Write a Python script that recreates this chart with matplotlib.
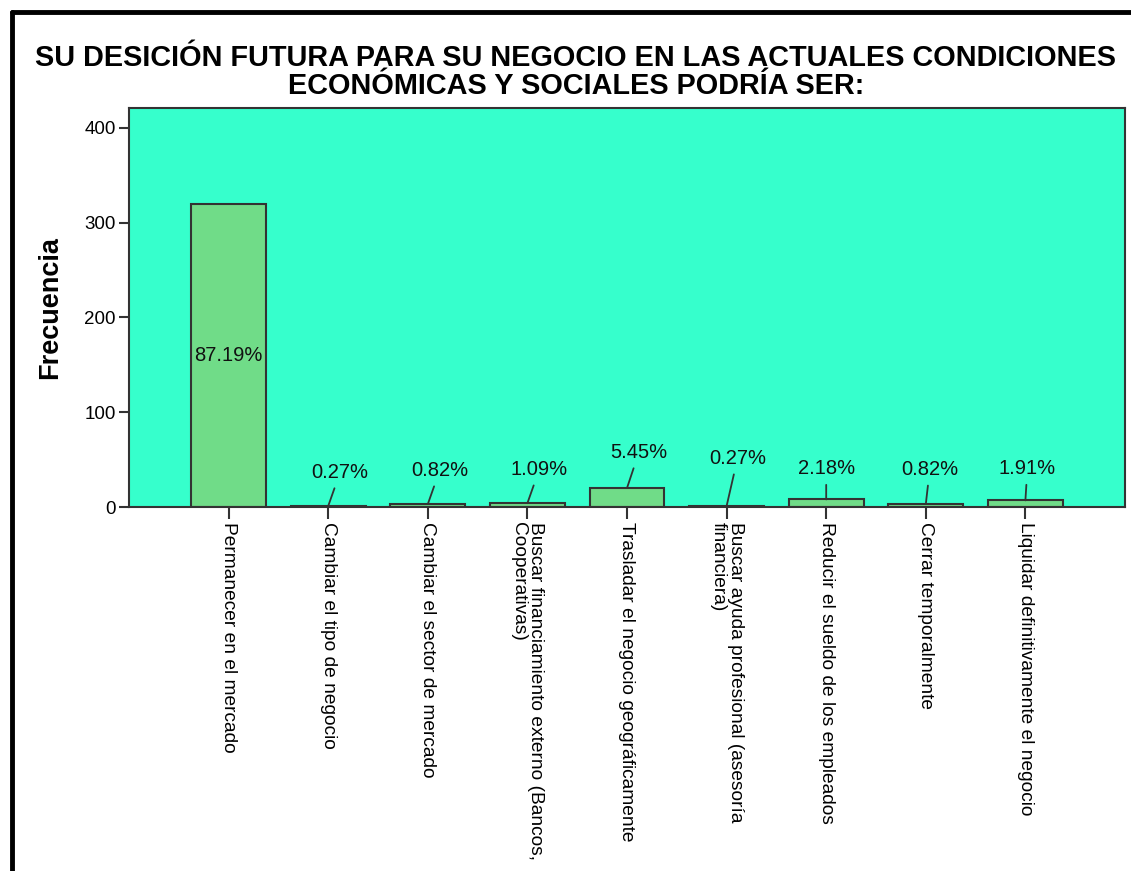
import matplotlib
matplotlib.use("Agg")
import matplotlib.pyplot as plt
from matplotlib.lines import Line2D

plt.rcParams['font.family'] = ['Liberation Sans', 'DejaVu Sans']

categorias = [
    "Permanecer en el mercado",
    "Cambiar el tipo de negocio",
    "Cambiar el sector de mercado",
    "Buscar financiamiento externo (Bancos,\nCooperativas)",
    "Trasladar el negocio geográficamente",
    "Buscar ayuda profesional (asesoría\nfinanciera)",
    "Reducir el sueldo de los empleados",
    "Cerrar temporalmente",
    "Liquidar definitivamente el negocio",
]
frecuencias = [320, 1, 3, 4, 20, 1, 8, 3, 7]
porcentajes = ["87.19%", "0.27%", "0.82%", "1.09%", "5.45%", "0.27%", "2.18%", "0.82%", "1.91%"]
yticks = [0, 100, 200, 300, 400]

# desplazamiento (pixeles) de cada etiqueta respecto a la punta de la barra
etiq_dx = [0, 12, 12, 12, 12, 11, 0, 4, 2]
etiq_dy = [0, 34, 34, 34, 36, 48, 31, 35, 32]

fondo = "#36FFCC"
verde = "#70DC88"
borde = "#333333"

fig = plt.figure(figsize=(11.31, 8.71), dpi=100)
ax = fig.add_axes([129 / 1131, 1 - 507 / 871, 996 / 1131, 399 / 871])
ax.set_facecolor(fondo)

x = list(range(len(categorias)))
ax.bar(x, frecuencias, width=0.75, color=verde, edgecolor=borde, linewidth=1.5)

for i, (v, p) in enumerate(zip(frecuencias, porcentajes)):
    if i == 0:
        ax.text(i, v / 2, p, ha='center', va='center', fontsize=14.5, color='#111111')
    else:
        ax.annotate(p, xy=(i, v), xytext=(etiq_dx[i], etiq_dy[i]),
                    textcoords='offset pixels', ha='center', va='center',
                    fontsize=14.5, color='#111111',
                    arrowprops=dict(arrowstyle='-', color=borde, lw=1.3,
                                    shrinkA=3, shrinkB=0))

ax.set_xlim(-1, len(categorias))
ax.set_ylim(0, 421)
ax.set_yticks(yticks)
ax.set_yticklabels([str(t) for t in yticks], fontsize=13.5)
ax.set_xticks(x)
ax.set_xticklabels(categorias, rotation=270, rotation_mode='anchor',
                   ha='left', va='center', fontsize=13.8, linespacing=1.0)
ax.tick_params(axis='y', direction='out', length=7.5, width=1.5, color=borde, pad=2)
ax.tick_params(axis='x', direction='out', length=8.5, width=1.5, color=borde, pad=2)
for s in ax.spines.values():
    s.set_color(borde)
    s.set_linewidth(1.5)

ax.set_ylabel("Frecuencia", fontsize=19.5, fontweight='bold')
ax.yaxis.set_label_coords(-0.0663, 0.5)

fig.text(0.509, 1 - 72 / 871,
         "SU DESICIÓN FUTURA PARA SU NEGOCIO EN LAS ACTUALES CONDICIONES\nECONÓMICAS Y SOCIALES PODRÍA SER:",
         ha='center', va='center', fontsize=20.8, fontweight='bold', linespacing=1.0)

# marco negro superior e izquierdo
fig.add_artist(Line2D([12 / 1131, 1.0], [1 - 12 / 871, 1 - 12 / 871], color='black', lw=3.5,
                      transform=fig.transFigure, solid_capstyle='round'))
fig.add_artist(Line2D([12 / 1131, 12 / 1131], [1 - 12 / 871, 0.0], color='black', lw=3.5,
                      transform=fig.transFigure, solid_capstyle='round'))

fig.savefig("out.png", dpi=100)
